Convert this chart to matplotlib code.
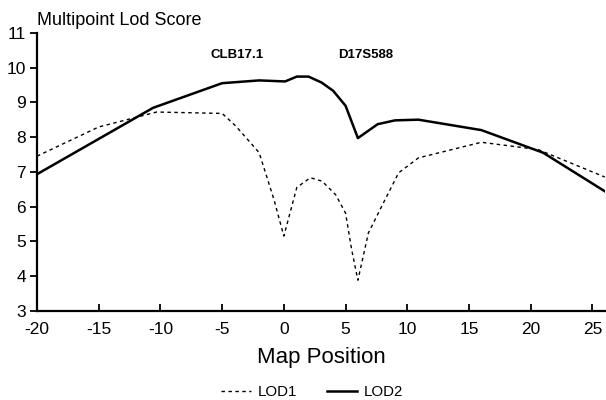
import matplotlib
matplotlib.use("Agg")
import matplotlib.pyplot as plt

plt.rcParams['font.family'] = ['Liberation Sans', 'DejaVu Sans']
plt.rcParams['axes.unicode_minus'] = False

lod1_x = [-20, -15, -10.3, -5, -3.9, -2, -0.8, 0, 1.05, 2.15, 3.1, 4.2, 5, 5.5, 6, 6.85, 8.2, 9.3, 10.9, 16, 20.6, 26]
lod1_y = [7.45, 8.29, 8.72, 8.68, 8.32, 7.55, 6.2, 5.15, 6.55, 6.83, 6.73, 6.34, 5.81, 4.75, 3.88, 5.24, 6.2, 6.97, 7.4, 7.85, 7.64, 6.85]
lod2_x = [-20, -10.6, -5, -2, 0.1, 1.05, 2, 3.05, 4, 5, 6, 7.6, 9, 10.9, 16, 21, 26]
lod2_y = [6.93, 8.84, 9.55, 9.63, 9.6, 9.74, 9.74, 9.57, 9.33, 8.9, 7.97, 8.37, 8.48, 8.5, 8.2, 7.55, 6.44]

xticks = [-20, -15, -10, -5, 0, 5, 10, 15, 20, 25]
yticks = [3, 4, 5, 6, 7, 8, 9, 10, 11]
markers = [("CLB17.1", -3.8), ("D17S588", 6.6)]

fig = plt.figure(figsize=(6.06, 4.0), dpi=100)
ax = fig.add_axes([0.061, 0.223, 0.937, 0.695])

l1, = ax.plot(lod1_x, lod1_y, color='black', lw=1.0, linestyle=(0, (2.5, 2.5)), label='LOD1')
l2, = ax.plot(lod2_x, lod2_y, color='black', lw=1.8, label='LOD2')

ax.set_xlim(-20, 26)
ax.set_ylim(3, 11)
ax.set_xticks(xticks)
ax.set_yticks(yticks)
ax.spines['top'].set_visible(False)
ax.spines['right'].set_visible(False)
ax.spines['left'].set_linewidth(1.6)
ax.spines['bottom'].set_linewidth(1.6)
ax.tick_params(axis='x', direction='in', length=5, width=1.3, labelsize=12.5, pad=8)
ax.tick_params(axis='y', direction='out', length=5, width=1.3, labelsize=12.5, pad=3)

for name, xpos in markers:
    ax.text(xpos, 10.36, name, fontsize=9.5, fontweight='bold', ha='center', va='center')

fig.text(0.061, 0.948, "Multipoint Lod Score", fontsize=13, ha='left', va='center')
fig.text(0.53, 0.1075, "Map Position", fontsize=16, ha='center', va='center')

fig.legend(handles=[l1, l2], loc='center', bbox_to_anchor=(0.515, 0.02), ncol=2,
           frameon=False, fontsize=10.8, handlelength=2.0, columnspacing=2.0, handletextpad=0.45,
           borderpad=0.0)

fig.savefig("out.png", dpi=100)
